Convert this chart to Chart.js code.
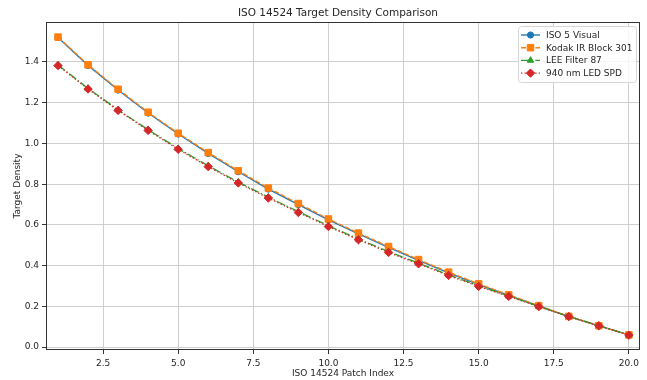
<!DOCTYPE html>
<html lang="en">
<head>
    <meta charset="UTF-8">
    <title>ISO 14524 Target Density Comparison</title>
    <style>
        body {
            margin: 0;
            background-color: #ffffff;
        }

        #densityChart {
            display: block;
        }
    </style>
</head>
<body>
    <canvas id="densityChart" width="647" height="380"></canvas>

    <script src="https://cdn.jsdelivr.net/npm/chart.js"></script>
    <script>
        // Patch index along x, density per patch for each filter / source
        const patchIndex = [1, 2, 3, 4, 5, 6, 7, 8, 9, 10, 11, 12, 13, 14, 15, 16, 17, 18, 19, 20];
        const iso5Visual = [1.520, 1.383, 1.262, 1.149, 1.046, 0.951, 0.861, 0.776, 0.700, 0.625,
                            0.556, 0.490, 0.426, 0.364, 0.307, 0.254, 0.201, 0.150, 0.104, 0.060];
        const kodakIrBlock = [1.522, 1.386, 1.266, 1.153, 1.050, 0.955, 0.866, 0.781, 0.705, 0.629,
                              0.560, 0.494, 0.430, 0.368, 0.311, 0.257, 0.204, 0.151, 0.105, 0.060];
        const leeFilter87 = [1.385, 1.270, 1.165, 1.067, 0.975, 0.890, 0.810, 0.736, 0.665, 0.596,
                             0.531, 0.469, 0.412, 0.355, 0.301, 0.251, 0.201, 0.151, 0.106, 0.060];
        const led940Spd = [1.382, 1.267, 1.162, 1.064, 0.971, 0.886, 0.806, 0.732, 0.661, 0.592,
                           0.527, 0.465, 0.409, 0.352, 0.298, 0.249, 0.199, 0.150, 0.105, 0.059];

        const xTicks = [2.5, 5, 7.5, 10, 12.5, 15, 17.5, 20];
        const yTicks = [0, 0.2, 0.4, 0.6, 0.8, 1.0, 1.2, 1.4];

        const LW = 1.35;
        const gridColor = '#cfcfcf';
        const inkColor = '#262626';
        const fontFamily = "'DejaVu Sans', sans-serif";

        Chart.defaults.font.family = fontFamily;
        Chart.defaults.font.size = 9;
        Chart.defaults.color = inkColor;

        function toPoints(values) {
            return patchIndex.map((x, i) => ({ x: x, y: values[i] }));
        }

        const seriesStyles = [
            { label: 'ISO 5 Visual', values: iso5Visual, color: '#1f77b4', dash: [], point: 'circle', radius: 3.1 },
            { label: 'Kodak IR Block 301', values: kodakIrBlock, color: '#ff7f0e', dash: [5, 2.2], point: 'rect', radius: 4.6 },
            { label: 'LEE Filter 87', values: leeFilter87, color: '#2ca02c', dash: [8.6, 2.2, 1.35, 2.2], point: 'triangle', radius: 3.7 },
            { label: '940 nm LED SPD', values: led940Spd, color: '#d62728', dash: [1.35, 2.2], point: 'rectRot', radius: 4.2 }
        ];

        const datasets = seriesStyles.map((s, i) => ({
            label: s.label,
            data: toPoints(s.values),
            borderColor: s.color,
            backgroundColor: s.color,
            borderWidth: LW,
            borderDash: s.dash,
            pointStyle: s.point,
            pointRadius: s.radius,
            pointBackgroundColor: s.color,
            pointBorderColor: s.color,
            pointBorderWidth: 1,
            tension: 0,
            fill: false,
            order: seriesStyles.length - i   // later series drawn on top
        }));

        // Frame, title and legend box drawn over the plot
        const framePlugin = {
            id: 'frame',
            afterDraw(chart) {
                const { ctx, chartArea } = chart;
                const { left, right, top, bottom } = chartArea;
                ctx.save();

                ctx.strokeStyle = '#333333';
                ctx.lineWidth = 1;
                ctx.strokeRect(left + 0.5, top + 0.5, right - left - 1, bottom - top - 1);

                ctx.fillStyle = inkColor;
                ctx.font = '10.5px ' + fontFamily;
                ctx.textAlign = 'center';
                ctx.textBaseline = 'middle';
                ctx.fillText('ISO 14524 Target Density Comparison', (left + right) / 2 - 5, 13);

                // legend
                const boxX = 518, boxY = 26, boxW = 118, boxH = 56;
                ctx.beginPath();
                ctx.roundRect(boxX + 0.5, boxY + 0.5, boxW, boxH, 3);
                ctx.fillStyle = 'rgba(255,255,255,0.8)';
                ctx.fill();
                ctx.strokeStyle = '#d6d6d6';
                ctx.stroke();

                ctx.font = '9px ' + fontFamily;
                ctx.textAlign = 'left';
                seriesStyles.forEach((s, i) => {
                    const y = 35 + i * 12.7;
                    ctx.strokeStyle = s.color;
                    ctx.lineWidth = LW;
                    ctx.setLineDash(s.dash);
                    ctx.beginPath();
                    ctx.moveTo(521, y);
                    ctx.lineTo(540, y);
                    ctx.stroke();
                    ctx.setLineDash([]);
                    ctx.fillStyle = s.color;
                    ctx.lineWidth = 1;
                    Chart.helpers.drawPoint(ctx, { pointStyle: s.point, radius: s.radius, rotation: 0, borderWidth: 1 }, 530.5, y);
                    ctx.fillStyle = inkColor;
                    ctx.fillText(s.label, 546, y + 0.5);
                });

                ctx.restore();
            }
        };

        const ctx = document.getElementById('densityChart').getContext('2d');
        const densityChart = new Chart(ctx, {
            type: 'line',
            data: { datasets: datasets },
            options: {
                responsive: false,
                animation: false,
                devicePixelRatio: 1,
                layout: { padding: { top: 22, right: 7, left: 0, bottom: 0 } },
                plugins: {
                    legend: { display: false },
                    title: { display: false },
                    tooltip: { enabled: false }
                },
                scales: {
                    x: {
                        type: 'linear',
                        min: 0.6,
                        max: 20.37,
                        afterBuildTicks: scale => { scale.ticks = xTicks.map(v => ({ value: v })); },
                        afterFit: scale => { scale.height = 30; },
                        ticks: {
                            autoSkip: false,
                            maxRotation: 0,
                            padding: 4,
                            color: inkColor,
                            callback: value => value.toFixed(1)
                        },
                        grid: { color: gridColor, lineWidth: 1, tickLength: 4, tickColor: '#333333' },
                        border: { display: false },
                        title: {
                            display: true,
                            text: 'ISO 14524 Patch Index',
                            color: inkColor,
                            padding: { top: 0, bottom: 1 }
                        }
                    },
                    y: {
                        type: 'linear',
                        min: -0.014,
                        max: 1.596,
                        afterBuildTicks: scale => { scale.ticks = yTicks.map(v => ({ value: v })); },
                        afterFit: scale => { scale.width = 46; },
                        ticks: {
                            padding: 3,
                            color: inkColor,
                            callback: value => value.toFixed(1)
                        },
                        grid: { color: gridColor, lineWidth: 1, tickLength: 4, tickColor: '#333333' },
                        border: { display: false },
                        title: {
                            display: true,
                            text: 'Target Density',
                            color: inkColor,
                            padding: { top: 12, bottom: 0 }
                        }
                    }
                }
            },
            plugins: [framePlugin]
        });
    </script>
</body>
</html>
